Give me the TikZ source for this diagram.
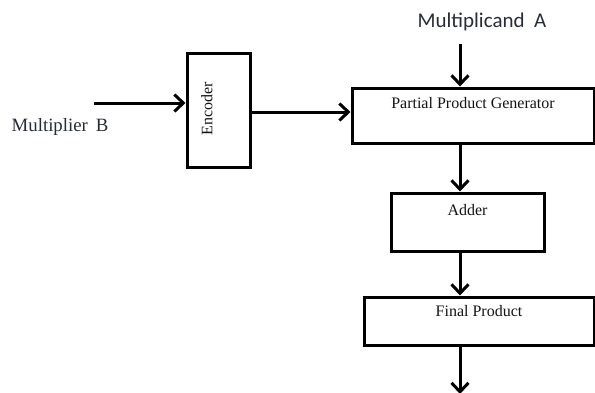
\documentclass[tikz,border=0pt]{standalone}
\usepackage{fontspec}
\setmainfont{Liberation Serif}
\newfontfamily\calibri{Carlito}
\usetikzlibrary{arrows.meta, positioning, calc}
\definecolor{inkc}{RGB}{20,20,24}
\definecolor{labc}{RGB}{40,44,56}
\tikzset{
  blk/.style={
    rectangle, draw=black, line width=1.5pt, fill=white, inner sep=0pt
  },
  blktxt/.style={font=\fontsize{8}{9}\selectfont, text=inkc, inner sep=0pt},
  arr/.style={-{Straight Barb[length=4.5pt, width=8.5pt]}, line width=1.5pt, draw=black},
}

\begin{document}
\begin{tikzpicture}[x=0.5pt, y=-0.5pt]

  \useasboundingbox (0,0) rectangle (595,392);

  % blocks
  \node[blk, minimum width=31.5pt, minimum height=57pt] (enc) at (218.5,110) {};
  \node[blk, minimum width=121pt, minimum height=27.5pt] (ppg) at (473,115.5) {};
  \node[blk, minimum width=76.5pt, minimum height=29pt] (add) at (467.5,222) {};
  \node[blk, minimum width=115pt, minimum height=24pt] (fin) at (479,321) {};

  \node[blktxt, rotate=90] (enct) at (207,109) {Encoder};
  \node[blktxt] (ppgt) at ($(ppg.north)+(0,17)$) {Partial Product Generator};
  \node[blktxt] (addt) at ($(add.north)+(0,19)$) {Adder};
  \node[blktxt] (fint) at ($(fin.north)+(0,16)$) {Final Product};

  % inputs and output
  \node[font=\fontsize{9.4}{11}\selectfont, text=labc, inner sep=0pt] (mb) at (60,127)
    {Multiplier\, B};
  \node[font=\calibri\fontsize{10.5}{12}\selectfont, text=labc, inner sep=0pt] (ma) at (482,22)
    {Multiplicand\ \ A};
  \coordinate (inb) at (94,103);
  \coordinate (ina) at (460,44);
  \coordinate (outf) at (460,394);

  \draw[arr] (inb) -- (inb -| enc.west);
  \draw[arr] ($(enc.east)+(0,2)$) -- ($(enc.east -| ppg.west)+(0,2)$);
  \draw[arr] (ina) -- (ina |- ppg.north);
  \draw[arr] (ppg.south -| ina) -- (add.north -| ina);
  \draw[arr] (add.south -| ina) -- (fin.north -| ina);
  \draw[arr] (fin.south -| ina) -- (outf);

\end{tikzpicture}
\end{document}
